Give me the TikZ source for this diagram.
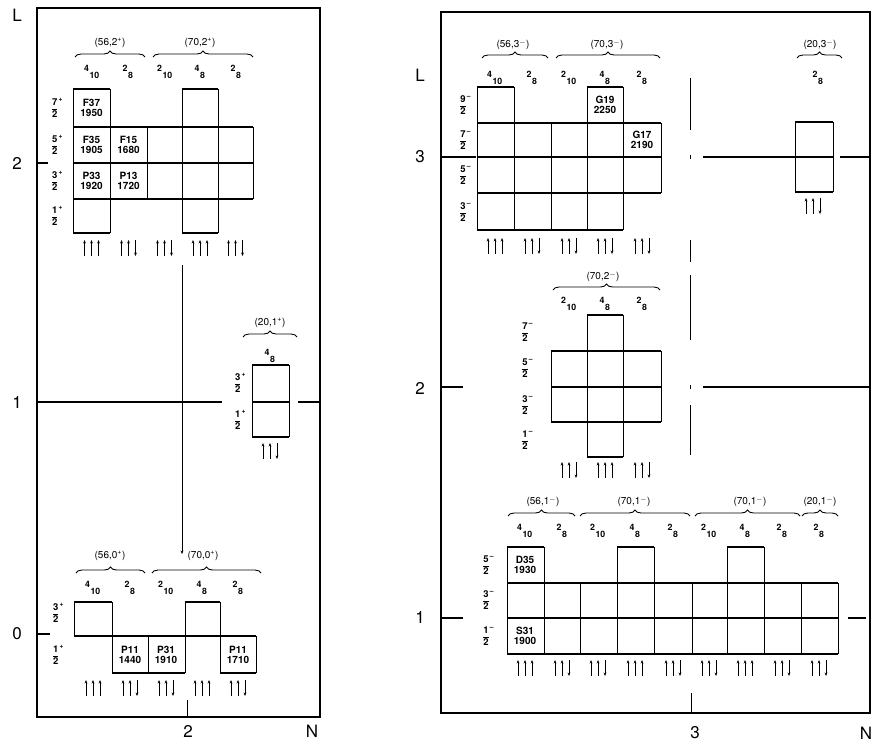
\documentclass[tikz,border=0pt]{standalone}
\usepackage{amsmath}
\usepackage{fontspec}
\setmainfont{TeX Gyre Heros}
\usepackage{tikz}
\usetikzlibrary{arrows.meta,decorations.pathreplacing}
\tikzstyle{frame}    =[line width=1.2pt]
\tikzstyle{celledge} =[line width=1.3pt]
\tikzstyle{cellside} =[line width=0.5pt]
\tikzstyle{lvl}      =[line width=1.2pt]
\tikzstyle{brc}      =[line width=0.9pt, decorate, decoration={brace, amplitude=6pt}]
\tikzstyle{axislbl}  =[font=\fontsize{17}{19}\selectfont]
\tikzstyle{multlbl}  =[font=\fontsize{10}{11}\selectfont]
\tikzstyle{collbl}   =[font=\fontsize{12.5}{13}\selectfont\bfseries]
\tikzstyle{jlbl}     =[font=\fontsize{9.5}{10}\selectfont\bfseries, inner sep=0pt]
\tikzstyle{statelbl} =[font=\fontsize{10}{10}\selectfont\bfseries, align=center, inner sep=0pt]

% one cell: thin sides, thick top and bottom
\newcommand{\cell}[4]{%
  \draw[cellside] (#1,#2) -- (#1,#4) (#3,#2) -- (#3,#4);
  \draw[celledge] (#1,#2) -- (#3,#2) (#1,#4) -- (#3,#4);}
\newcommand{\cellcol}[3]{\foreach \ya/\yb in {#3} {\cell{#1}{\ya}{#2}{\yb}}}
% three spin arrows under a column
\newcommand{\spins}[3]{\foreach \d [count=\i] in {#3}
  {\draw[line width=0.8pt, \d] ({#1+(\i-2)*7},#2) -- ++(0,16);}}
\newcommand{\jfrac}[2]{$\dfrac{\text{#1}}{\text{2}}^{\text{#2}}$}

\begin{document}
\begin{tikzpicture}[x=1pt, y=-1pt, >={Stealth[length=3.5pt,width=2.8pt]}]
  \useasboundingbox (0,0) rectangle (874,744);

  % ── left panel: frame and axes ────────────────────────────────────────────
  \draw[frame] (37,8) rectangle (320,717);
  \node[axislbl] (lL)  at (17,15)  {L};
  \node[axislbl] (lL2) at (17,163) {2};
  \node[axislbl] (lL1) at (17,402) {1};
  \node[axislbl] (lL0) at (17,634) {0};
  \node[axislbl] (lN2) at (188,731) {2};
  \node[axislbl] (lN)  at (312,731) {N};
  \draw[lvl] (37,163) -- (48,163);
  \draw[lvl] (37,402) -- (222,402) (298,402) -- (320,402);
  \draw[lvl] (37,634) -- (50,634);
  \draw[cellside] (187,700) -- (187,717);
  \draw[cellside, ->] (182,265) -- (182,554);

  % ── (56,2+) and (70,2+) ───────────────────────────────────────────────────
  \node[multlbl] (m562) at (110,43) {(56,2\textsuperscript{+})};
  \node[multlbl] (m702) at (200,43) {(70,2\textsuperscript{+})};
  \draw[brc] (75,57) -- (145,57);
  \draw[brc] (153,57) -- (253,57);
  \foreach \x/\s/\d [count=\k] in {92/4/10,128/2/8,165/2/10,200/4/8,236/2/8}
    \node[collbl] (ca\k) at (\x,72) {\textsuperscript{\s}\textsubscript{\d}};
  \cellcol{73}{110}{89/127,127/163,163/199,199/233}
  \cellcol{110}{147}{127/163,163/199}
  \cellcol{147}{182}{127/163,163/199}
  \cellcol{182}{218}{89/127,127/163,163/199,199/233}
  \cellcol{218}{253}{127/163,163/199}
  \node[statelbl] (F37) at (91.5,108) {F37\\1950};
  \node[statelbl] (F35) at (91.5,145) {F35\\1905};
  \node[statelbl] (F15) at (128.5,145) {F15\\1680};
  \node[statelbl] (P33) at (91.5,181) {P33\\1920};
  \node[statelbl] (P13) at (128.5,181) {P13\\1720};
  \node[jlbl] (ja1) at (57,108) {\jfrac{7}{+}};
  \node[jlbl] (ja2) at (57,145) {\jfrac{5}{+}};
  \node[jlbl] (ja3) at (57,181) {\jfrac{3}{+}};
  \node[jlbl] (ja4) at (57,216) {\jfrac{1}{+}};
  \spins{91.5}{240}{<-,<-,<-}
  \spins{128.5}{240}{<-,<-,->}
  \spins{164.5}{240}{<-,<-,->}
  \spins{200}{240}{<-,<-,<-}
  \spins{235.5}{240}{<-,<-,->}

  % ── (20,1+) ───────────────────────────────────────────────────────────────
  \node[multlbl] (m201) at (270,323) {(20,1\textsuperscript{+})};
  \draw[brc] (243,337) -- (297,337);
  \node[collbl] (cb1) at (270,356) {\textsuperscript{4}\textsubscript{8}};
  \cellcol{252}{289}{365/402,402/437}
  \node[jlbl] (jb1) at (240,383) {\jfrac{3}{+}};
  \node[jlbl] (jb2) at (240,420) {\jfrac{1}{+}};
  \spins{270}{443}{<-,<-,->}

  % ── (56,0+) and (70,0+) ───────────────────────────────────────────────────
  \node[multlbl] (m560) at (110,556) {(56,0\textsuperscript{+})};
  \node[multlbl] (m700) at (203,556) {(70,0\textsuperscript{+})};
  \draw[brc] (76,573) -- (145,573);
  \draw[brc] (152,573) -- (261,573);
  \foreach \x/\s/\d [count=\k] in {93/4/10,130/2/8,166/2/10,202/4/8,238/2/8}
    \node[collbl] (cc\k) at (\x,588) {\textsuperscript{\s}\textsubscript{\d}};
  \cellcol{74}{112}{602/636}
  \cellcol{112}{148}{636/673}
  \cellcol{148}{185}{636/673}
  \cellcol{185}{220}{602/636}
  \cellcol{220}{256}{636/673}
  \node[statelbl] (P11a) at (130,655) {P11\\1440};
  \node[statelbl] (P31)  at (166,655) {P31\\1910};
  \node[statelbl] (P11b) at (238,655) {P11\\1710};
  \node[jlbl] (jc1) at (58,613) {\jfrac{3}{+}};
  \node[jlbl] (jc2) at (58,655) {\jfrac{1}{+}};
  \spins{93}{680}{<-,<-,<-}
  \spins{130}{680}{<-,<-,->}
  \spins{166}{680}{<-,<-,->}
  \spins{202}{680}{<-,<-,<-}
  \spins{238}{680}{<-,<-,->}

  % ── right panel: frame and axes ───────────────────────────────────────────
  \draw[frame] (441,12) rectangle (870,713);
  \node[axislbl] (rL)  at (420,75)  {L};
  \node[axislbl] (rL3) at (420,157) {3};
  \node[axislbl] (rL2) at (420,388) {2};
  \node[axislbl] (rL1) at (420,617) {1};
  \node[axislbl] (rN3) at (695,733) {3};
  \node[axislbl] (rN)  at (866,733) {N};
  \draw[lvl] (441,157) -- (476,157) (703,157) -- (795,157) (840,157) -- (870,157);
  \draw[lvl] (441,387) -- (463,387) (703,387) -- (870,387);
  \draw[lvl] (441,618) -- (463,618) (848,618) -- (866,618);
  \draw[cellside] (691,693) -- (691,713);
  \foreach \ya/\yb in {78/130,155/159,240/262,275/340,385/389,405/455}
    \draw[line width=0.8pt] (690,\ya) -- (690,\yb);

  % ── (56,3-) and (70,3-) ───────────────────────────────────────────────────
  \node[multlbl] (m563) at (513,45) {(56,3$^{-}$)};
  \node[multlbl] (m703) at (607,45) {(70,3$^{-}$)};
  \draw[brc] (482,58) -- (548,58);
  \draw[brc] (556,58) -- (660,58);
  \foreach \x/\s/\d [count=\k] in {495/4/10,532/2/8,569/2/10,605/4/8,642/2/8}
    \node[collbl] (cd\k) at (\x,78) {\textsuperscript{\s}\textsubscript{\d}};
  \cellcol{477}{514}{87/123,123/157,157/193,193/230}
  \cellcol{514}{551}{123/157,157/193,193/230}
  \cellcol{551}{587}{123/157,157/193,193/230}
  \cellcol{587}{623}{87/123,123/157,157/193,193/230}
  \cellcol{623}{661}{123/157,157/193}
  \node[statelbl] (G19) at (605,105) {G19\\2250};
  \node[statelbl] (G17) at (642,140) {G17\\2190};
  \node[jlbl] (jd1) at (465,105) {\jfrac{9}{--}};
  \node[jlbl] (jd2) at (465,140) {\jfrac{7}{--}};
  \node[jlbl] (jd3) at (465,175) {\jfrac{5}{--}};
  \node[jlbl] (jd4) at (465,212) {\jfrac{3}{--}};
  \spins{495}{238}{<-,<-,<-}
  \spins{532}{238}{<-,<-,->}
  \spins{569}{238}{<-,<-,->}
  \spins{605}{238}{<-,<-,->}
  \spins{642}{238}{<-,<-,->}

  % ── (20,3-) ───────────────────────────────────────────────────────────────
  \node[multlbl] (m203) at (820,45) {(20,3$^{-}$)};
  \draw[brc] (797,58) -- (842,58);
  \node[collbl] (ce1) at (818,78) {\textsuperscript{2}\textsubscript{8}};
  \cellcol{795}{833}{122/157,157/192}
  \spins{813}{198}{<-,<-,->}

  % ── (70,2-) ───────────────────────────────────────────────────────────────
  \node[multlbl] (m702m) at (603,277) {(70,2$^{-}$)};
  \draw[brc] (553,290) -- (660,290);
  \foreach \x/\s/\d [count=\k] in {569/2/10,605/4/8,642/2/8}
    \node[collbl] (cf\k) at (\x,304) {\textsuperscript{\s}\textsubscript{\d}};
  \cellcol{551}{587}{351/387,387/422}
  \cellcol{587}{623}{315/351,351/387,387/422,422/457}
  \cellcol{623}{661}{351/387,387/422}
  \node[jlbl] (jf1) at (527,332) {\jfrac{7}{--}};
  \node[jlbl] (jf2) at (527,368) {\jfrac{5}{--}};
  \node[jlbl] (jf3) at (527,405) {\jfrac{3}{--}};
  \node[jlbl] (jf4) at (527,440) {\jfrac{1}{--}};
  \spins{569}{462}{<-,<-,->}
  \spins{605}{462}{<-,<-,<-}
  \spins{642}{462}{<-,<-,->}

  % ── (56,1-), (70,1-), (70,1-), (20,1-) ────────────────────────────────────
  \node[multlbl] (m561)  at (543,502) {(56,1$^{-}$)};
  \node[multlbl] (m701a) at (634,502) {(70,1$^{-}$)};
  \node[multlbl] (m701b) at (750,502) {(70,1$^{-}$)};
  \node[multlbl] (m201m) at (820,502) {(20,1$^{-}$)};
  \draw[brc] (508,516) -- (575,516);
  \draw[brc] (580,516) -- (690,516);
  \draw[brc] (695,516) -- (800,516);
  \draw[brc] (802,516) -- (838,516);
  \foreach \x/\s/\d [count=\k] in {525/4/10,562/2/8,598/2/10,635/4/8,673/2/8,709/2/10,745/4/8,782/2/8,819/2/8}
    \node[collbl] (cg\k) at (\x,531) {\textsuperscript{\s}\textsubscript{\d}};
  \foreach \xa/\xb/\rows in {507/544/3,544/580/2,580/617/2,617/654/3,654/692/2,692/727/2,727/764/3,764/801/2,801/838/2}{
    \ifnum\rows=3 \cell{\xa}{547}{\xb}{583}\fi
    \cellcol{\xa}{\xb}{583/618,618/654}
  }
  \node[statelbl] (D35) at (525,565) {D35\\1930};
  \node[statelbl] (S31) at (525,636) {S31\\1900};
  \node[jlbl] (jg1) at (488,565) {\jfrac{5}{--}};
  \node[jlbl] (jg2) at (488,600) {\jfrac{3}{--}};
  \node[jlbl] (jg3) at (488,636) {\jfrac{1}{--}};
  \spins{525}{660}{<-,<-,<-}
  \spins{562}{660}{<-,<-,->}
  \spins{598}{660}{<-,<-,->}
  \spins{635}{660}{<-,<-,<-}
  \spins{673}{660}{<-,<-,->}
  \spins{709}{660}{<-,<-,->}
  \spins{745}{660}{<-,<-,<-}
  \spins{782}{660}{<-,<-,->}
  \spins{819}{660}{<-,<-,->}

\end{tikzpicture}
\end{document}
